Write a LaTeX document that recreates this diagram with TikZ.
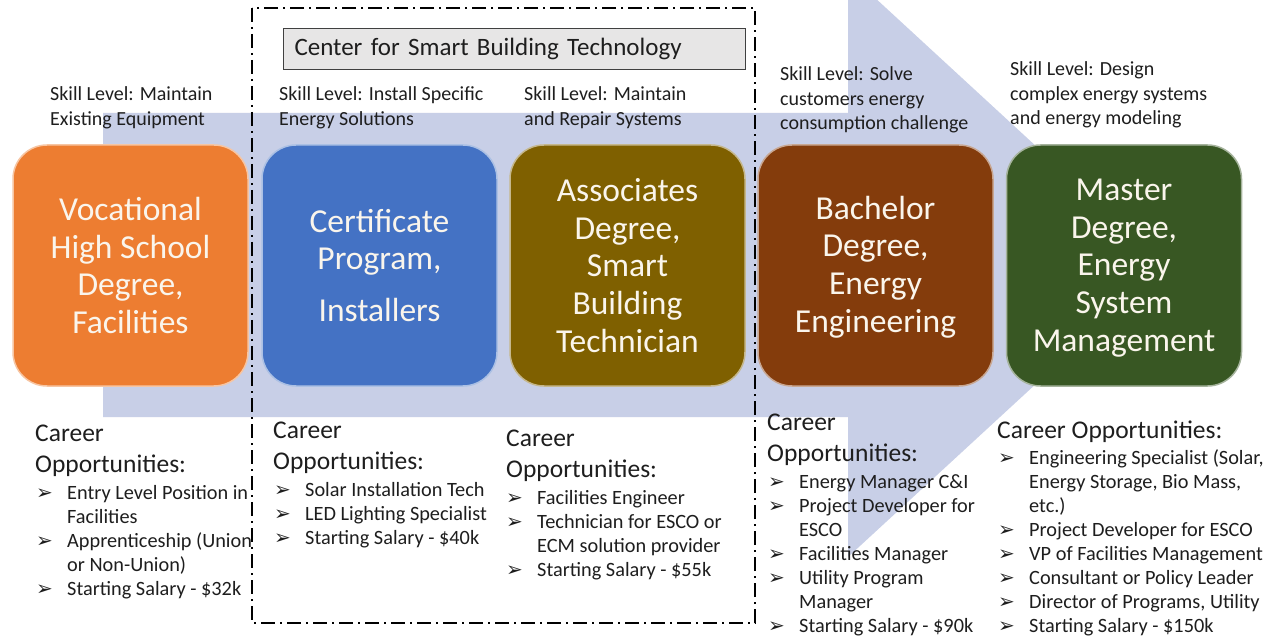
\documentclass[tikz,border=0pt]{standalone}
\usepackage{fontspec}
\setmainfont{Carlito}
\newfontfamily\dejavu{DejaVu Sans}
\definecolor{arrowblue}{HTML}{C8CFE7}
\definecolor{cOrange}{HTML}{ED7D31}
\definecolor{cBlue}{HTML}{4472C4}
\definecolor{cOlive}{HTML}{7F6000}
\definecolor{cBrown}{HTML}{843C0C}
\definecolor{cGreen}{HTML}{385723}
\definecolor{cGray}{HTML}{E7E6E6}
\definecolor{boxtxt}{HTML}{FAF5EC}
\definecolor{txt}{HTML}{1E1E1E}
\newcommand{\bul}{\makebox[31pt][l]{\dejavu\fontsize{20}{24}\selectfont ➢}}
\newcommand{\cont}{\hspace*{31pt}}
\newcommand{\mlines}[1]{\begin{tabular}[t]{@{}l@{}}#1\end{tabular}}
\newcommand{\clines}[1]{\begin{tabular}{@{}c@{}}\rule{0pt}{32pt}#1\end{tabular}}
\begin{document}
\begin{tikzpicture}[x=1pt,y=-1pt,
  degbox/.style={rectangle, rounded corners=34, minimum width=235, minimum height=241,
    inner sep=0, align=center, text=boxtxt, line width=1.5,
    font=\fontsize{33.5}{37.7}\selectfont},
  skill/.style={anchor=base west, inner sep=0, text=txt, font=\fontsize{20}{24.4}\selectfont},
  hdr/.style={anchor=base west, inner sep=0, text=txt, font=\fontsize{25.5}{31}\selectfont},
  lst/.style={anchor=base west, inner sep=0, text=txt, font=\fontsize{20.3}{24.15}\selectfont},
  lstb/.style={lst, font=\fontsize{20.3}{24}\selectfont},
  frame/.style={line width=2, black, dash pattern=on 14pt off 5pt on 2pt off 5pt}
]
\useasboundingbox (0,0) rectangle (1272,636);
\clip (0,0) rectangle (1272,636);
\fill[white] (0,0) rectangle (1272,636);
% big arrow
\fill[arrowblue] (103,113) -- (848,113) -- (848,-27) -- (1165,265) -- (848,557) -- (848,417) -- (103,417) -- cycle;

% degree boxes
\node[degbox, fill=cOrange, draw=cOrange!45!white] (voc) at (130.5,265.5) {Vocational\\High School\\Degree,\\Facilities};
\node[degbox, fill=cBlue, draw=cBlue!45!white] (cert) at (379.5,265.5) {Certificate\\Program,\\[14pt]Installers};
\node[degbox, fill=cOlive, draw=cOlive!45!white] (assoc) at (627.5,265.5) {Associates\\Degree,\\Smart\\Building\\Technician};
\node[degbox, fill=cBrown, draw=cBrown!45!white] (bach) at (875.5,265.5) {\clines{Bachelor\\Degree,\\Energy\\Engineering}};
\node[degbox, fill=cGreen, draw=cGreen!45!white] (mast) at (1124,265.5) {\clines{Master\\Degree,\\Energy\\System\\Management}};

% center title
\node[draw=black!75, fill=cGray, line width=1, anchor=north west, minimum height=41,
  text width=440, inner xsep=11, inner ysep=0, align=left, text=txt,
  font=\fontsize{25}{30}\selectfont] (cent) at (283,28) {Center for Smart Building Technology};

% dash-dot frame
\draw[frame] (252,8) rectangle (755,623);

% skill levels
\node[skill] (s1) at (50,101) {\mlines{Skill Level: Maintain\\Existing Equipment}};
\node[skill] (s2) at (279,101) {\mlines{Skill Level: Install Specific\\Energy Solutions}};
\node[skill] (s3) at (524,101) {\mlines{Skill Level: Maintain\\and Repair Systems}};
\node[skill] (s4) at (780,81) {\mlines{Skill Level: Solve\\customers energy\\consumption challenge}};
\node[skill] (s5) at (1010,76) {\mlines{Skill Level: Design\\complex energy systems\\and energy modeling}};

% career opportunities
\node[hdr] (h1) at (35,441) {\mlines{Career\\Opportunities:}};
\node[lst] (l1) at (36,499) {\mlines{\bul Entry Level Position in\\\cont Facilities\\\bul Apprenticeship (Union\\\cont or Non-Union)\\\bul Starting Salary - \$32k}};

\node[hdr] (h2) at (273,438) {\mlines{Career\\Opportunities:}};
\node[lst] (l2) at (274,496) {\mlines{\bul Solar Installation Tech\\\bul LED Lighting Specialist\\\bul Starting Salary - \$40k}};

\node[hdr] (h3) at (506,446) {\mlines{Career\\Opportunities:}};
\node[lst] (l3) at (506,504) {\mlines{\bul Facilities Engineer\\\bul Technician for ESCO or\\\cont ECM solution provider\\\bul Starting Salary - \$55k}};

\node[hdr] (h4) at (767,430) {\mlines{Career\\Opportunities:}};
\node[lstb] (l4) at (768,488) {\mlines{\bul Energy Manager C\&I\\\bul Project Developer for\\\cont ESCO\\\bul Facilities Manager\\\bul Utility Program\\\cont Manager\\\bul Starting Salary - \$90k}};

\node[hdr] (h5) at (997,438) {Career Opportunities:};
\node[lstb] (l5) at (998,464) {\mlines{\bul Engineering Specialist (Solar,\\\cont Energy Storage, Bio Mass,\\\cont etc.)\\\bul Project Developer for ESCO\\\bul VP of Facilities Management\\\bul Consultant or Policy Leader\\\bul Director of Programs, Utility\\\bul Starting Salary - \$150k}};
\end{tikzpicture}
\end{document}
